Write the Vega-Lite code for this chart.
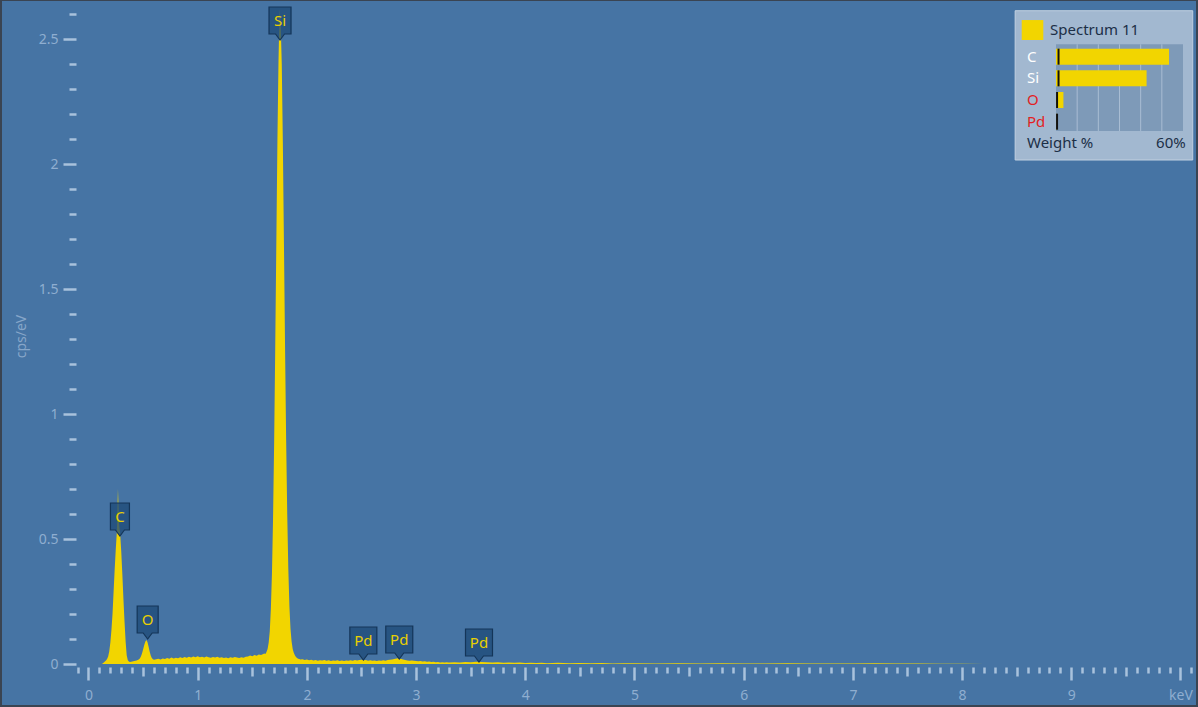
{
  "$schema": "https://vega.github.io/schema/vega-lite/v6.json",
  "width": 1194,
  "height": 704,
  "autosize": {"type": "none"},
  "padding": {"left": 2, "top": 1, "right": 2, "bottom": 2},
  "background": "#3A4452",
  "config": {
    "font": "Noto Sans",
    "view": {"fill": "#4674A4", "stroke": null}
  },
  "datasets": {
    "spectrum": [
      {"keV":0.12,"cps":0},{"keV":0.13,"cps":0.002},{"keV":0.14,"cps":0.006},{"keV":0.15,"cps":0.01},{"keV":0.16,"cps":0.014},{"keV":0.17,"cps":0.02},{"keV":0.18,"cps":0.03},{"keV":0.19,"cps":0.05},{"keV":0.2,"cps":0.085},{"keV":0.21,"cps":0.135},{"keV":0.22,"cps":0.2},{"keV":0.23,"cps":0.29},{"keV":0.24,"cps":0.38},{"keV":0.25,"cps":0.46},{"keV":0.26,"cps":0.53},{"keV":0.27,"cps":0.7},{"keV":0.28,"cps":0.56},{"keV":0.29,"cps":0.52},{"keV":0.3,"cps":0.45},{"keV":0.31,"cps":0.36},{"keV":0.32,"cps":0.26},{"keV":0.33,"cps":0.17},{"keV":0.34,"cps":0.09},{"keV":0.35,"cps":0.035},{"keV":0.36,"cps":0.015},{"keV":0.37,"cps":0.01},{"keV":0.38,"cps":0.008},{"keV":0.39,"cps":0.009},{"keV":0.4,"cps":0.01},{"keV":0.41,"cps":0.011},{"keV":0.42,"cps":0.012},{"keV":0.43,"cps":0.013},{"keV":0.44,"cps":0.014},{"keV":0.45,"cps":0.016},{"keV":0.46,"cps":0.018},{"keV":0.47,"cps":0.022},{"keV":0.48,"cps":0.03},{"keV":0.49,"cps":0.042},{"keV":0.5,"cps":0.058},{"keV":0.51,"cps":0.075},{"keV":0.52,"cps":0.089},{"keV":0.53,"cps":0.096},{"keV":0.54,"cps":0.088},{"keV":0.55,"cps":0.07},{"keV":0.56,"cps":0.05},{"keV":0.57,"cps":0.034},{"keV":0.58,"cps":0.024},{"keV":0.59,"cps":0.019},
      {"keV":0.6,"cps":0.017},{"keV":0.62,"cps":0.019},{"keV":0.64,"cps":0.021},{"keV":0.66,"cps":0.018},{"keV":0.68,"cps":0.022},{"keV":0.7,"cps":0.02},{"keV":0.72,"cps":0.024},{"keV":0.74,"cps":0.021},{"keV":0.76,"cps":0.026},{"keV":0.78,"cps":0.022},{"keV":0.8,"cps":0.025},{"keV":0.82,"cps":0.023},{"keV":0.84,"cps":0.027},{"keV":0.86,"cps":0.024},{"keV":0.88,"cps":0.028},{"keV":0.9,"cps":0.025},{"keV":0.92,"cps":0.029},{"keV":0.94,"cps":0.026},{"keV":0.96,"cps":0.03},{"keV":0.98,"cps":0.027},{"keV":1.0,"cps":0.031},{"keV":1.02,"cps":0.027},{"keV":1.04,"cps":0.029},{"keV":1.06,"cps":0.026},{"keV":1.08,"cps":0.03},{"keV":1.1,"cps":0.027},{"keV":1.12,"cps":0.025},{"keV":1.14,"cps":0.028},{"keV":1.16,"cps":0.026},{"keV":1.18,"cps":0.029},{"keV":1.2,"cps":0.025},{"keV":1.22,"cps":0.027},{"keV":1.24,"cps":0.024},{"keV":1.26,"cps":0.026},{"keV":1.28,"cps":0.023},{"keV":1.3,"cps":0.027},{"keV":1.32,"cps":0.025},{"keV":1.34,"cps":0.028},{"keV":1.36,"cps":0.026},{"keV":1.38,"cps":0.024},{"keV":1.4,"cps":0.027},{"keV":1.42,"cps":0.025},{"keV":1.44,"cps":0.029},{"keV":1.46,"cps":0.03},{"keV":1.48,"cps":0.034},{"keV":1.5,"cps":0.031},{"keV":1.52,"cps":0.036},{"keV":1.54,"cps":0.033},{"keV":1.56,"cps":0.038},{"keV":1.58,"cps":0.036},
      {"keV":1.6,"cps":0.04},{"keV":1.61,"cps":0.042},{"keV":1.62,"cps":0.04},{"keV":1.63,"cps":0.048},{"keV":1.64,"cps":0.06},{"keV":1.65,"cps":0.085},{"keV":1.66,"cps":0.13},{"keV":1.67,"cps":0.22},{"keV":1.68,"cps":0.36},{"keV":1.69,"cps":0.58},{"keV":1.7,"cps":0.88},{"keV":1.71,"cps":1.26},{"keV":1.72,"cps":1.68},{"keV":1.73,"cps":2.09},{"keV":1.74,"cps":2.41},{"keV":1.75,"cps":2.62},{"keV":1.76,"cps":2.56},{"keV":1.77,"cps":2.4},{"keV":1.78,"cps":2.08},{"keV":1.79,"cps":1.68},{"keV":1.8,"cps":1.27},{"keV":1.81,"cps":0.9},{"keV":1.82,"cps":0.6},{"keV":1.83,"cps":0.38},{"keV":1.84,"cps":0.23},{"keV":1.85,"cps":0.14},{"keV":1.86,"cps":0.09},{"keV":1.87,"cps":0.06},{"keV":1.88,"cps":0.045},{"keV":1.89,"cps":0.035},{"keV":1.9,"cps":0.028},{"keV":1.91,"cps":0.024},{"keV":1.92,"cps":0.021},{"keV":1.93,"cps":0.02},
      {"keV":1.94,"cps":0.018},{"keV":1.96,"cps":0.019},{"keV":1.98,"cps":0.016},{"keV":2.0,"cps":0.018},{"keV":2.02,"cps":0.015},{"keV":2.04,"cps":0.017},{"keV":2.06,"cps":0.014},{"keV":2.08,"cps":0.016},{"keV":2.1,"cps":0.013},{"keV":2.12,"cps":0.015},{"keV":2.14,"cps":0.014},{"keV":2.16,"cps":0.016},{"keV":2.18,"cps":0.013},{"keV":2.2,"cps":0.015},{"keV":2.22,"cps":0.012},{"keV":2.24,"cps":0.014},{"keV":2.26,"cps":0.013},{"keV":2.28,"cps":0.015},{"keV":2.3,"cps":0.012},{"keV":2.32,"cps":0.014},{"keV":2.34,"cps":0.012},{"keV":2.36,"cps":0.014},{"keV":2.38,"cps":0.013},{"keV":2.4,"cps":0.015},{"keV":2.42,"cps":0.013},{"keV":2.44,"cps":0.016},{"keV":2.46,"cps":0.014},{"keV":2.48,"cps":0.016},{"keV":2.5,"cps":0.017},{"keV":2.52,"cps":0.015},{"keV":2.54,"cps":0.016},{"keV":2.56,"cps":0.013},{"keV":2.58,"cps":0.015},{"keV":2.6,"cps":0.013},{"keV":2.62,"cps":0.014},{"keV":2.64,"cps":0.012},{"keV":2.66,"cps":0.014},{"keV":2.68,"cps":0.013},{"keV":2.7,"cps":0.015},{"keV":2.72,"cps":0.013},{"keV":2.74,"cps":0.016},{"keV":2.76,"cps":0.017},{"keV":2.78,"cps":0.018},{"keV":2.8,"cps":0.02},{"keV":2.82,"cps":0.022},{"keV":2.84,"cps":0.023},{"keV":2.86,"cps":0.021},{"keV":2.88,"cps":0.018},{"keV":2.9,"cps":0.016},{"keV":2.92,"cps":0.014},{"keV":2.94,"cps":0.013},{"keV":2.96,"cps":0.014},{"keV":2.98,"cps":0.013},{"keV":3.0,"cps":0.012},{"keV":3.02,"cps":0.011},{"keV":3.04,"cps":0.012},{"keV":3.06,"cps":0.01},{"keV":3.08,"cps":0.011},{"keV":3.1,"cps":0.009},{"keV":3.12,"cps":0.01},{"keV":3.14,"cps":0.008},{"keV":3.16,"cps":0.009},{"keV":3.18,"cps":0.007},{"keV":3.2,"cps":0.008},{"keV":3.22,"cps":0.006},{"keV":3.24,"cps":0.007},{"keV":3.26,"cps":0.006},{"keV":3.28,"cps":0.007},{"keV":3.3,"cps":0.006},{"keV":3.35,"cps":0.007},{"keV":3.4,"cps":0.006},{"keV":3.45,"cps":0.008},{"keV":3.5,"cps":0.007},{"keV":3.55,"cps":0.009},{"keV":3.6,"cps":0.008},{"keV":3.65,"cps":0.007},{"keV":3.7,"cps":0.006},{"keV":3.75,"cps":0.007},{"keV":3.8,"cps":0.005},{"keV":3.85,"cps":0.006},{"keV":3.9,"cps":0.005},{"keV":3.95,"cps":0.006},{"keV":4.0,"cps":0.004},{"keV":4.05,"cps":0.005},{"keV":4.1,"cps":0.004},{"keV":4.15,"cps":0.005},{"keV":4.2,"cps":0.003},{"keV":4.25,"cps":0.004},{"keV":4.3,"cps":0.005},{"keV":4.35,"cps":0.004},{"keV":4.4,"cps":0.003},{"keV":4.5,"cps":0.004},{"keV":4.6,"cps":0.003},{"keV":4.7,"cps":0.004},{"keV":4.8,"cps":0.002},{"keV":4.9,"cps":0.003},{"keV":5.0,"cps":0.003},{"keV":5.2,"cps":0.002},{"keV":5.4,"cps":0.003},{"keV":5.6,"cps":0.002},{"keV":5.8,"cps":0.003},{"keV":6.0,"cps":0.002},{"keV":6.2,"cps":0.002},{"keV":6.4,"cps":0.003},{"keV":6.6,"cps":0.002},{"keV":6.8,"cps":0.002},{"keV":7.0,"cps":0.002},{"keV":7.2,"cps":0.003},{"keV":7.4,"cps":0.002},{"keV":7.6,"cps":0.002},{"keV":7.8,"cps":0.001},{"keV":8.0,"cps":0.001},{"keV":8.2,"cps":0},{"keV":10.1,"cps":0}
    ],
    "peaks": [
      {"el":"C","keV":0.288,"cps":0.512},
      {"el":"O","keV":0.542,"cps":0.1},
      {"el":"Si","keV":1.754,"cps":2.496},
      {"el":"Pd","keV":2.517,"cps":0.016},
      {"el":"Pd","keV":2.846,"cps":0.02},
      {"el":"Pd","keV":3.576,"cps":0.008}
    ],
    "weights": [
      {"el":"C","row":1,"pct":53.4,"err":1.2},
      {"el":"Si","row":2,"pct":42.8,"err":1.2},
      {"el":"O","row":3,"pct":3.5,"err":0.5},
      {"el":"Pd","row":4,"pct":0.3,"err":0.5}
    ],
    "grid": [{"pct":10},{"pct":20},{"pct":30},{"pct":40},{"pct":50}]
  },
  "layer": [
    {
      "layer": [
        {
          "data": {"name": "spectrum"},
          "mark": {"type": "area", "color": "#F2D500", "interpolate": "linear"},
          "encoding": {
            "x": {
              "field": "keV", "type": "quantitative",
              "scale": {"domain": [-0.792, 10.142], "nice": false, "zero": false},
              "axis": {
                "orient": "bottom",
                "offset": -38,
                "domain": false,
                "grid": false,
                "title": null,
                "tickCount": 500,
                "values": [-0.1,0,0.1,0.2,0.3,0.4,0.5,0.6,0.7,0.8,0.9,1,1.1,1.2,1.3,1.4,1.5,1.6,1.7,1.8,1.9,2,2.1,2.2,2.3,2.4,2.5,2.6,2.7,2.8,2.9,3,3.1,3.2,3.3,3.4,3.5,3.6,3.7,3.8,3.9,4,4.1,4.2,4.3,4.4,4.5,4.6,4.7,4.8,4.9,5,5.1,5.2,5.3,5.4,5.5,5.6,5.7,5.8,5.9,6,6.1,6.2,6.3,6.4,6.5,6.6,6.7,6.8,6.9,7,7.1,7.2,7.3,7.4,7.5,7.6,7.7,7.8,7.9,8,8.1,8.2,8.3,8.4,8.5,8.6,8.7,8.8,8.9,9,9.1,9.2,9.3,9.4,9.5,9.6,9.7,9.8,9.9,10,10.1],
                "labelExpr": "datum.value == 10 ? 'keV' : (abs(datum.value - round(datum.value)) < 0.001 ? format(datum.value, 'd') : '')",
                "tickColor": "#A9C2DC",
                "tickWidth": 2.5,
                "tickSize": {"condition": [{"test": "abs(datum.value - round(datum.value)) < 0.001", "value": 13}, {"test": "abs(datum.value*2 - round(datum.value*2)) < 0.001", "value": 9}], "value": 6},
                "labelColor": "#8FAED0",
                "labelFontSize": 14,
                "labelPadding": 8,
                "labelOverlap": false,
                "labelFlush": false,
                "labelBound": false
              }
            },
            "y": {
              "field": "cps", "type": "quantitative",
              "scale": {"domain": [-0.164, 2.652], "nice": false, "zero": false},
              "axis": {
                "orient": "left",
                "offset": -74,
                "domain": false,
                "grid": false,
                "title": "cps/eV",
                "titleColor": "#86A6C9",
                "titleFontSize": 14,
                "titleFontWeight": "normal",
                "titleX": -55,
                "titleY": 335,
                "titleAngle": -90,
                "titleAlign": "center",
                "titleBaseline": "middle",
                "tickCount": 500,
                "values": [0,0.1,0.2,0.3,0.4,0.5,0.6,0.7,0.8,0.9,1,1.1,1.2,1.3,1.4,1.5,1.6,1.7,1.8,1.9,2,2.1,2.2,2.3,2.4,2.5,2.6],
                "labelExpr": "abs(datum.value*2 - round(datum.value*2)) < 0.001 ? format(datum.value, '~g') : ''",
                "tickColor": "#A9C2DC",
                "tickWidth": 2.5,
                "tickSize": {"condition": {"test": "abs(datum.value*2 - round(datum.value*2)) < 0.001", "value": 13}, "value": 7},
                "labelColor": "#8FAED0",
                "labelFontSize": 14,
                "labelPadding": 5,
                "labelOverlap": false,
                "labelFlush": false,
                "labelBound": false
              }
            }
          }
        },
        {
          "data": {"name": "peaks"},
          "mark": {"type": "point", "filled": true, "fill": "#1F4B78", "fillOpacity": 0.78, "opacity": 1, "stroke": "#143558", "strokeWidth": 1.2, "size": 400},
          "encoding": {
            "x": {"field": "keV", "type": "quantitative", "scale": {"domain": [-0.792, 10.142], "nice": false, "zero": false}},
            "y": {"field": "cps", "type": "quantitative", "scale": {"domain": [-0.164, 2.652], "nice": false, "zero": false}},
            "shape": {
              "field": "el", "type": "nominal", "legend": null,
              "scale": {
                "domain": ["C", "O", "Si", "Pd"],
                "range": [
                  "M-0.95,-3.3L0.95,-3.3L0.95,-0.6L0.45,-0.6L0,0L-0.45,-0.6L-0.95,-0.6Z",
                  "M-1.05,-3.3L1.05,-3.3L1.05,-0.6L0.45,-0.6L0,0L-0.45,-0.6L-1.05,-0.6Z",
                  "M-1.1,-3.3L1.1,-3.3L1.1,-0.6L0.45,-0.6L0,0L-0.45,-0.6L-1.1,-0.6Z",
                  "M-1.35,-3.3L1.35,-3.3L1.35,-0.6L0.45,-0.6L0,0L-0.45,-0.6L-1.35,-0.6Z"
                ]
              }
            }
          }
        },
        {
          "data": {"name": "peaks"},
          "mark": {"type": "text", "color": "#E9D000", "fontSize": 15, "dy": -19, "align": "center", "baseline": "middle"},
          "encoding": {
            "x": {"field": "keV", "type": "quantitative", "scale": {"domain": [-0.792, 10.142], "nice": false, "zero": false}},
            "y": {"field": "cps", "type": "quantitative", "scale": {"domain": [-0.164, 2.652], "nice": false, "zero": false}},
            "text": {"field": "el", "type": "nominal"}
          }
        }
      ]
    },
    {
      "layer": [
        {
          "data": {"values": [{}]},
          "mark": {"type": "rect", "fill": "#1E3A5C", "opacity": 0.6, "xOffset": 3, "yOffset": 3},
          "encoding": {
            "x": {"datum": -19.3, "type": "quantitative", "scale": {"domain": [0, 60], "range": [1054, 1181], "nice": false, "zero": false, "padding": 0}, "axis": null},
            "x2": {"datum": 64.6},
            "y": {"datum": -1.12, "type": "quantitative", "scale": {"domain": [0, 5], "range": [34, 142.33], "nice": false, "zero": false, "padding": 0}, "axis": null},
            "y2": {"datum": 5.77}
          }
        },
        {
          "data": {"values": [{}]},
          "mark": {"type": "rect", "fill": "#A2B8D0", "stroke": "#C2D1E1", "strokeWidth": 1},
          "encoding": {
            "x": {"datum": -19.3, "type": "quantitative", "scale": {"domain": [0, 60], "range": [1054, 1181], "nice": false, "zero": false, "padding": 0}, "axis": null},
            "x2": {"datum": 64.6},
            "y": {"datum": -1.12, "type": "quantitative", "scale": {"domain": [0, 5], "range": [34, 142.33], "nice": false, "zero": false, "padding": 0}, "axis": null},
            "y2": {"datum": 5.77}
          }
        },
        {
          "data": {"values": [{}]},
          "mark": {"type": "rect", "fill": "#7E9AB8"},
          "encoding": {
            "x": {"datum": 0, "type": "quantitative", "scale": {"domain": [0, 60], "range": [1054, 1181], "nice": false, "zero": false, "padding": 0}, "axis": null},
            "x2": {"datum": 60},
            "y": {"datum": 0.43, "type": "quantitative", "scale": {"domain": [0, 5], "range": [34, 142.33], "nice": false, "zero": false, "padding": 0}, "axis": null},
            "y2": {"datum": 4.43}
          }
        },
        {
          "data": {"name": "grid"},
          "mark": {"type": "rule", "stroke": "#A9BDD3", "strokeWidth": 1},
          "encoding": {
            "x": {"field": "pct", "type": "quantitative", "scale": {"domain": [0, 60], "range": [1054, 1181], "nice": false, "zero": false, "padding": 0}, "axis": null},
            "y": {"datum": 0.43, "type": "quantitative", "scale": {"domain": [0, 5], "range": [34, 142.33], "nice": false, "zero": false, "padding": 0}, "axis": null},
            "y2": {"datum": 4.43}
          }
        },
        {
          "data": {"name": "weights"},
          "mark": {"type": "bar", "orient": "horizontal", "color": "#F2D500", "size": 16},
          "encoding": {
            "x": {"field": "pct", "type": "quantitative", "scale": {"domain": [0, 60], "range": [1054, 1181], "nice": false, "zero": false, "padding": 0}, "axis": null},
            "y": {"field": "row", "type": "quantitative", "scale": {"domain": [0, 5], "range": [34, 142.33], "nice": false, "zero": false, "padding": 0}, "axis": null}
          }
        },
        {
          "data": {"name": "weights"},
          "mark": {"type": "tick", "orient": "vertical", "color": "#111111", "size": 16, "thickness": 2, "opacity": 1},
          "encoding": {
            "x": {"field": "err", "type": "quantitative", "scale": {"domain": [0, 60], "range": [1054, 1181], "nice": false, "zero": false, "padding": 0}, "axis": null},
            "y": {"field": "row", "type": "quantitative", "scale": {"domain": [0, 5], "range": [34, 142.33], "nice": false, "zero": false, "padding": 0}, "axis": null}
          }
        },
        {
          "data": {"name": "weights"},
          "mark": {"type": "text", "align": "left", "baseline": "middle", "fontSize": 15},
          "encoding": {
            "x": {"datum": -13.7, "type": "quantitative", "scale": {"domain": [0, 60], "range": [1054, 1181], "nice": false, "zero": false, "padding": 0}, "axis": null},
            "y": {"field": "row", "type": "quantitative", "scale": {"domain": [0, 5], "range": [34, 142.33], "nice": false, "zero": false, "padding": 0}, "axis": null},
            "text": {"field": "el", "type": "nominal"},
            "color": {"field": "el", "type": "nominal", "legend": null, "scale": {"domain": ["C", "Si", "O", "Pd"], "range": ["#FFFFFF", "#FFFFFF", "#E31E24", "#E31E24"]}}
          }
        },
        {
          "data": {"values": [{}]},
          "mark": {"type": "rect", "fill": "#F2D500"},
          "encoding": {
            "x": {"datum": -16.2, "type": "quantitative", "scale": {"domain": [0, 60], "range": [1054, 1181], "nice": false, "zero": false, "padding": 0}, "axis": null},
            "x2": {"datum": -6.0},
            "y": {"datum": -0.69, "type": "quantitative", "scale": {"domain": [0, 5], "range": [34, 142.33], "nice": false, "zero": false, "padding": 0}, "axis": null},
            "y2": {"datum": 0.23}
          }
        },
        {
          "data": {"values": [{}]},
          "mark": {"type": "text", "text": "Spectrum 11", "align": "left", "baseline": "middle", "fontSize": 15, "color": "#1C2F47"},
          "encoding": {
            "x": {"datum": -2.8, "type": "quantitative", "scale": {"domain": [0, 60], "range": [1054, 1181], "nice": false, "zero": false, "padding": 0}, "axis": null},
            "y": {"datum": -0.23, "type": "quantitative", "scale": {"domain": [0, 5], "range": [34, 142.33], "nice": false, "zero": false, "padding": 0}, "axis": null}
          }
        },
        {
          "data": {"values": [{}]},
          "mark": {"type": "text", "text": "Weight %", "align": "left", "baseline": "middle", "fontSize": 15, "color": "#1C2F47"},
          "encoding": {
            "x": {"datum": -13.7, "type": "quantitative", "scale": {"domain": [0, 60], "range": [1054, 1181], "nice": false, "zero": false, "padding": 0}, "axis": null},
            "y": {"datum": 5.0, "type": "quantitative", "scale": {"domain": [0, 5], "range": [34, 142.33], "nice": false, "zero": false, "padding": 0}, "axis": null}
          }
        },
        {
          "data": {"values": [{}]},
          "mark": {"type": "text", "text": "60%", "align": "right", "baseline": "middle", "fontSize": 15, "color": "#1C2F47"},
          "encoding": {
            "x": {"datum": 61.3, "type": "quantitative", "scale": {"domain": [0, 60], "range": [1054, 1181], "nice": false, "zero": false, "padding": 0}, "axis": null},
            "y": {"datum": 5.0, "type": "quantitative", "scale": {"domain": [0, 5], "range": [34, 142.33], "nice": false, "zero": false, "padding": 0}, "axis": null}
          }
        }
      ]
    }
  ],
  "resolve": {"scale": {"x": "independent", "y": "independent"}}
}
